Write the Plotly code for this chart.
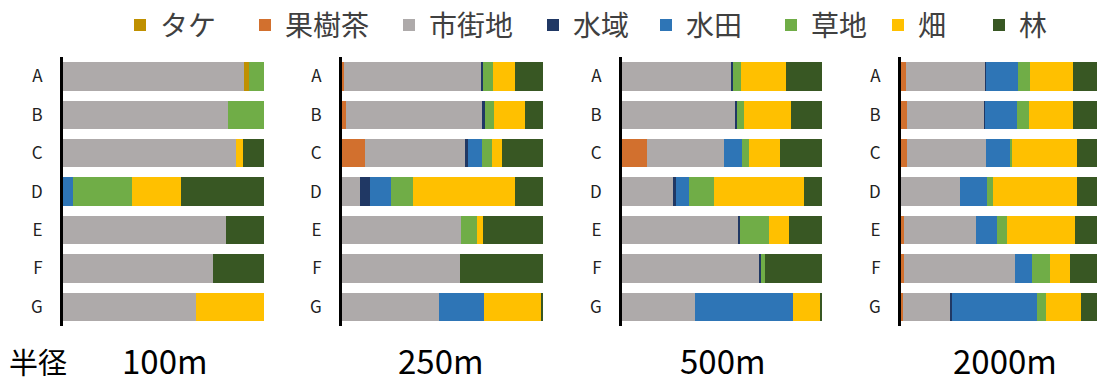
import plotly.graph_objects as go

W, H = 1097, 385

categories = ["A", "B", "C", "D", "E", "F", "G"]

# land-use classes in stacking order (left -> right)
classes = ["果樹茶", "市街地", "タケ", "水域", "水田", "草地", "畑", "林"]
legend_order = ["タケ", "果樹茶", "市街地", "水域", "水田", "草地", "畑", "林"]
colors = ["#D2702E", "#AEAAAA", "#BF9000", "#203864", "#2E75B6", "#70AD47", "#FFC000", "#385723"]

radius_labels = ["100m", "250m", "500m", "2000m"]

# shares per class (rows follow `classes`), columns = A..G
r100 = [
    [0, 0, 0, 0, 0, 0, 0],                              # 果樹茶
    [0.900, 0.819, 0.861, 0, 0.811, 0.744, 0.664],      # 市街地
    [0.025, 0, 0, 0, 0, 0, 0],                          # タケ
    [0, 0, 0, 0, 0, 0, 0],                              # 水域
    [0, 0, 0, 0.048, 0, 0, 0],                          # 水田
    [0.075, 0.181, 0, 0.294, 0, 0, 0],                  # 草地
    [0, 0, 0.035, 0.246, 0, 0, 0.336],                  # 畑
    [0, 0, 0.104, 0.411, 0.189, 0.256, 0],              # 林
]
r250 = [
    [0.012, 0.018, 0.115, 0, 0, 0, 0],
    [0.678, 0.680, 0.498, 0.092, 0.592, 0.588, 0.483],
    [0, 0, 0, 0, 0, 0, 0],
    [0.012, 0.012, 0.013, 0.048, 0, 0, 0],
    [0, 0, 0.072, 0.105, 0, 0, 0.222],
    [0.047, 0.047, 0.050, 0.108, 0.082, 0, 0],
    [0.113, 0.155, 0.050, 0.508, 0.025, 0, 0.288],
    [0.138, 0.088, 0.202, 0.138, 0.302, 0.412, 0.007],
]
r500 = [
    [0, 0, 0.126, 0, 0, 0, 0],
    [0.548, 0.564, 0.384, 0.253, 0.581, 0.687, 0.365],
    [0, 0, 0, 0, 0, 0, 0],
    [0.007, 0.010, 0, 0.015, 0.008, 0.008, 0],
    [0, 0, 0.089, 0.065, 0, 0, 0.491],
    [0.040, 0.037, 0.035, 0.129, 0.144, 0.018, 0],
    [0.224, 0.233, 0.156, 0.449, 0.102, 0, 0.136],
    [0.181, 0.156, 0.211, 0.089, 0.164, 0.286, 0.008],
]
r2000 = [
    [0.027, 0.028, 0.032, 0, 0.013, 0.013, 0.008],
    [0.392, 0.388, 0.390, 0.295, 0.358, 0.552, 0.237],
    [0, 0, 0, 0, 0, 0, 0],
    [0.005, 0.003, 0, 0, 0, 0, 0.008],
    [0.158, 0.157, 0.120, 0.135, 0.108, 0.085, 0.425],
    [0.058, 0.060, 0.010, 0.030, 0.050, 0.092, 0.042],
    [0.215, 0.218, 0.325, 0.417, 0.335, 0.100, 0.175],
    [0.145, 0.145, 0.123, 0.123, 0.135, 0.158, 0.105],
]
panels = [r100, r250, r500, r2000]

# layout (pixels)
panel_x = [(63, 264), (342, 543), (622, 822), (901, 1097)]
panel_range_max = [1, 1, 1, 196 / 201]
y_top, y_bot = 52, 325
legend_marker_cx = [140, 265, 409, 553, 666, 791, 898, 999]   # in legend_order

FONT = "Noto Sans CJK JP"

fig = go.Figure()
for p, data in enumerate(panels):
    sfx = "" if p == 0 else str(p + 1)
    for k, cls in enumerate(classes):
        li = legend_order.index(cls)
        fig.add_trace(go.Bar(
            y=categories, x=data[k], orientation="h", name=cls,
            marker=dict(color=colors[k], line=dict(width=0)),
            xaxis="x" + sfx, yaxis="y" + sfx,
            showlegend=(p == 0),
            legend="legend" if li == 0 else "legend" + str(li + 1),
            hovertemplate=cls + ": %{x:.1%}<extra>%{y}</extra>",
        ))
    x0, x1 = panel_x[p]
    fig.layout["xaxis" + sfx] = dict(
        domain=[x0 / W, x1 / W], range=[0, panel_range_max[p]],
        showgrid=False, zeroline=False, showticklabels=False, showline=False,
        anchor="y" + sfx, fixedrange=True,
    )
    fig.layout["yaxis" + sfx] = dict(
        domain=[1 - y_bot / H, 1 - y_top / H], anchor="x" + sfx,
        categoryorder="array", categoryarray=categories, autorange="reversed",
        showgrid=False, zeroline=False, showline=True, linecolor="black", linewidth=3,
        ticks="", ticklabelstandoff=14,
        tickfont=dict(family=FONT, size=17, color="#222"),
    )

# one single-item legend per class so each entry sits where the reference has it
for li, cx in enumerate(legend_marker_cx):
    key = "legend" if li == 0 else "legend" + str(li + 1)
    fig.layout[key] = dict(
        orientation="h", x=(cx - 20) / W, xanchor="left", y=1.015, yanchor="top",
        font=dict(family=FONT, size=28, color="#404040"),
        bgcolor="rgba(0,0,0,0)", borderwidth=0, itemwidth=30,
    )

annotations = [dict(text="半径", x=38 / W, y=1 - 361 / H,
                    font=dict(family=FONT, size=29, color="black"))]
centers = [165, 441, 723, 1005]
for lab, cx in zip(radius_labels, centers):
    annotations.append(dict(text=lab, x=cx / W, y=1 - 360 / H,
                            font=dict(family=FONT, size=33, color="black")))
for a in annotations:
    a.update(xref="paper", yref="paper", showarrow=False, xanchor="center", yanchor="middle")

fig.update_layout(
    width=W, height=H, margin=dict(l=0, r=0, t=0, b=0),
    paper_bgcolor="white", plot_bgcolor="white",
    barmode="stack", bargap=0.26,
    annotations=annotations,
    font=dict(family=FONT),
)

fig.write_html("out.html")
